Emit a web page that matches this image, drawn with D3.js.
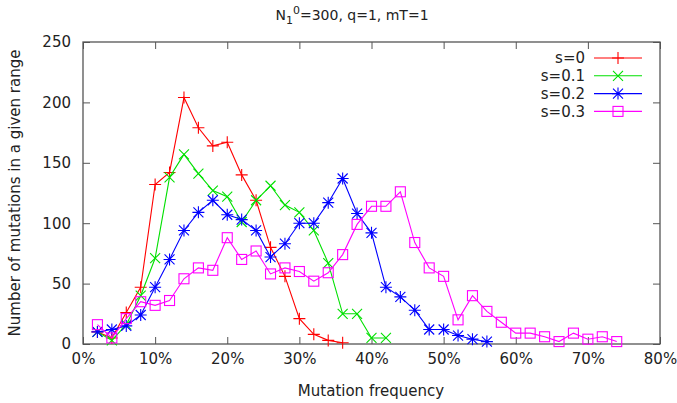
<!DOCTYPE html>
<html>
<head>
<meta charset="utf-8">
<script src="https://cdn.jsdelivr.net/npm/d3@7"></script>
<style>
  body { margin: 0; background: #fff; }
  svg { font-family: "DejaVu Sans", sans-serif; }
</style>
</head>
<body>
<div id="root"></div>
<script>
const w = 677;
const h = 403;
const margin = { left: 83, right: 17, top: 42, bottom: 59 };

// frequencies (fraction) and counts per series
const freqs = [0.02, 0.04, 0.06, 0.08, 0.10, 0.12, 0.14, 0.16, 0.18, 0.20, 0.22, 0.24, 0.26, 0.28, 0.30,
  0.32, 0.34, 0.36, 0.38, 0.40, 0.42, 0.44, 0.46, 0.48, 0.50, 0.52, 0.54, 0.56, 0.58, 0.60,
  0.62, 0.64, 0.66, 0.68, 0.70, 0.72, 0.74];

const s0 = [10, 5, 26, 47, 132, 142, 204, 179, 164, 167, 140, 119, 80, 56, 21, 8, 3, 1];
const s01 = [10, 3, 16, 40, 71, 138, 157, 141, 127, 122, 101, 119, 131, 115, 109, 94, 67, 25, 25, 5, 5];
const s02 = [10, 12, 15, 24, 47, 70, 94, 109, 119, 107, 103, 94, 72, 83, 100, 100, 117, 137, 108, 92,
  47, 39, 28, 12, 12, 7, 4, 2];
const s03 = [16, 5, 21, 35, 32, 36, 54, 63, 61, 88, 70, 77, 58, 63, 60, 52, 59, 74, 99, 114, 114, 126,
  84, 63, 56, 20, 40, 27, 18, 9, 9, 6, 2, 9, 4, 6, 2];

const seriesNames = ["s=0", "s=0.1", "s=0.2", "s=0.3"];
const seriesValues = [s0, s01, s02, s03];
const seriesColors = ["#ff0000", "#00e000", "#0000ff", "#ff00ff"];
const seriesMarks = ["plus", "cross", "star", "square"];

const xTicks = [0, 0.1, 0.2, 0.3, 0.4, 0.5, 0.6, 0.7, 0.8];
const yTicks = [0, 50, 100, 150, 200, 250];

const fs = 15;
const textColor = "#222";

const svg = d3.select("#root").append("svg").attr("width", w).attr("height", h);

const xScale = d3.scaleLinear().domain([0, 0.8]).range([margin.left, w - margin.right]);
const yScale = d3.scaleLinear().domain([0, 250]).range([h - margin.bottom, margin.top]);

const frameColor = "#555";
const tk = 7;

// axes with inward ticks, mirrored
svg.append("g")
  .attr("transform", `translate(0,${h - margin.bottom})`)
  .call(d3.axisBottom(xScale).tickValues(xTicks).tickFormat(d3.format(".0%")).tickSizeInner(-tk).tickSizeOuter(0).tickPadding(9))
  .call((g) => g.select(".domain").remove())
  .call((g) => g.selectAll("line").attr("stroke", frameColor))
  .call((g) => g.selectAll("text").attr("font-size", fs).attr("fill", textColor).attr("font-family", "DejaVu Sans"));

svg.append("g")
  .attr("transform", `translate(0,${margin.top})`)
  .call(d3.axisTop(xScale).tickValues(xTicks).tickFormat("").tickSizeInner(-tk).tickSizeOuter(0))
  .call((g) => g.select(".domain").remove())
  .call((g) => g.selectAll("line").attr("stroke", frameColor));

svg.append("g")
  .attr("transform", `translate(${margin.left},0)`)
  .call(d3.axisLeft(yScale).tickValues(yTicks).tickSizeInner(-tk).tickSizeOuter(0).tickPadding(12))
  .call((g) => g.select(".domain").remove())
  .call((g) => g.selectAll("line").attr("stroke", frameColor))
  .call((g) => g.selectAll("text").attr("font-size", fs).attr("fill", textColor).attr("font-family", "DejaVu Sans"));

svg.append("g")
  .attr("transform", `translate(${w - margin.right},0)`)
  .call(d3.axisRight(yScale).tickValues(yTicks).tickFormat("").tickSizeInner(-tk).tickSizeOuter(0))
  .call((g) => g.select(".domain").remove())
  .call((g) => g.selectAll("line").attr("stroke", frameColor));

svg.append("rect")
  .attr("x", margin.left)
  .attr("y", margin.top)
  .attr("width", w - margin.left - margin.right)
  .attr("height", h - margin.top - margin.bottom)
  .attr("fill", "none")
  .attr("stroke", frameColor)
  .attr("stroke-width", 1.3);

// markers
function marker(g, type, color) {
  const r = 5;
  if (type === "plus") {
    g.append("path").attr("d", `M${-r - 1},0H${r + 1}M0,${-r - 1}V${r + 1}`);
  } else if (type === "cross") {
    g.append("path").attr("d", `M${-r},${-r}L${r},${r}M${-r},${r}L${r},${-r}`);
  } else if (type === "star") {
    g.append("path").attr("d", `M${-r - 1},0H${r + 1}M0,${-r - 1}V${r + 1}M${-r},${-r}L${r},${r}M${-r},${r}L${r},${-r}`);
  } else {
    g.append("rect").attr("x", -r).attr("y", -r).attr("width", 2 * r).attr("height", 2 * r).attr("fill", "none");
  }
  g.selectAll("path, rect").attr("stroke", color).attr("stroke-width", 1.1);
}

const line = d3.line().x((d) => xScale(d.x)).y((d) => yScale(d.y));

seriesValues.forEach((vals, i) => {
  const pts = vals.map((v, j) => ({ x: freqs[j], y: v }));
  const g = svg.append("g");
  g.append("path")
    .datum(pts)
    .attr("d", line)
    .attr("fill", "none")
    .attr("stroke", seriesColors[i])
    .attr("stroke-width", 1.1);
  g.selectAll("g.pt")
    .data(pts)
    .join("g")
    .attr("class", "pt")
    .attr("transform", (d) => `translate(${xScale(d.x)},${yScale(d.y)})`)
    .each(function () {
      marker(d3.select(this), seriesMarks[i], seriesColors[i]);
    });
});

// legend
const legend = svg.append("g").attr("transform", "translate(585,58)");
seriesNames.forEach((name, i) => {
  const row = legend.append("g").attr("transform", `translate(0,${i * 17.8})`);
  row.append("text")
    .attr("text-anchor", "end")
    .attr("dy", "0.36em")
    .attr("font-size", fs)
    .attr("fill", textColor)
    .text(name);
  row.append("line")
    .attr("x1", 9).attr("x2", 57)
    .attr("stroke", seriesColors[i])
    .attr("stroke-width", 1.1);
  marker(row.append("g").attr("transform", "translate(33,0)"), seriesMarks[i], seriesColors[i]);
});

// title
const title = svg.append("text")
  .attr("x", 352)
  .attr("y", 20)
  .attr("text-anchor", "middle")
  .attr("font-size", 14)
  .attr("fill", textColor);
title.append("tspan").text("N");
title.append("tspan").attr("font-size", 11).attr("dy", 4).text("1");
title.append("tspan").attr("font-size", 11).attr("dy", -10).text("0");
title.append("tspan").attr("dy", 6).text("=300, q=1, mT=1");

// axis labels
svg.append("text")
  .attr("x", 371)
  .attr("y", 396)
  .attr("text-anchor", "middle")
  .attr("font-size", fs)
  .attr("fill", textColor)
  .text("Mutation frequency");

svg.append("text")
  .attr("transform", `translate(20,${(margin.top + h - margin.bottom) / 2}) rotate(-90)`)
  .attr("text-anchor", "middle")
  .attr("font-size", fs)
  .attr("fill", textColor)
  .text("Number of mutations in a given range");
</script>
</body>
</html>
